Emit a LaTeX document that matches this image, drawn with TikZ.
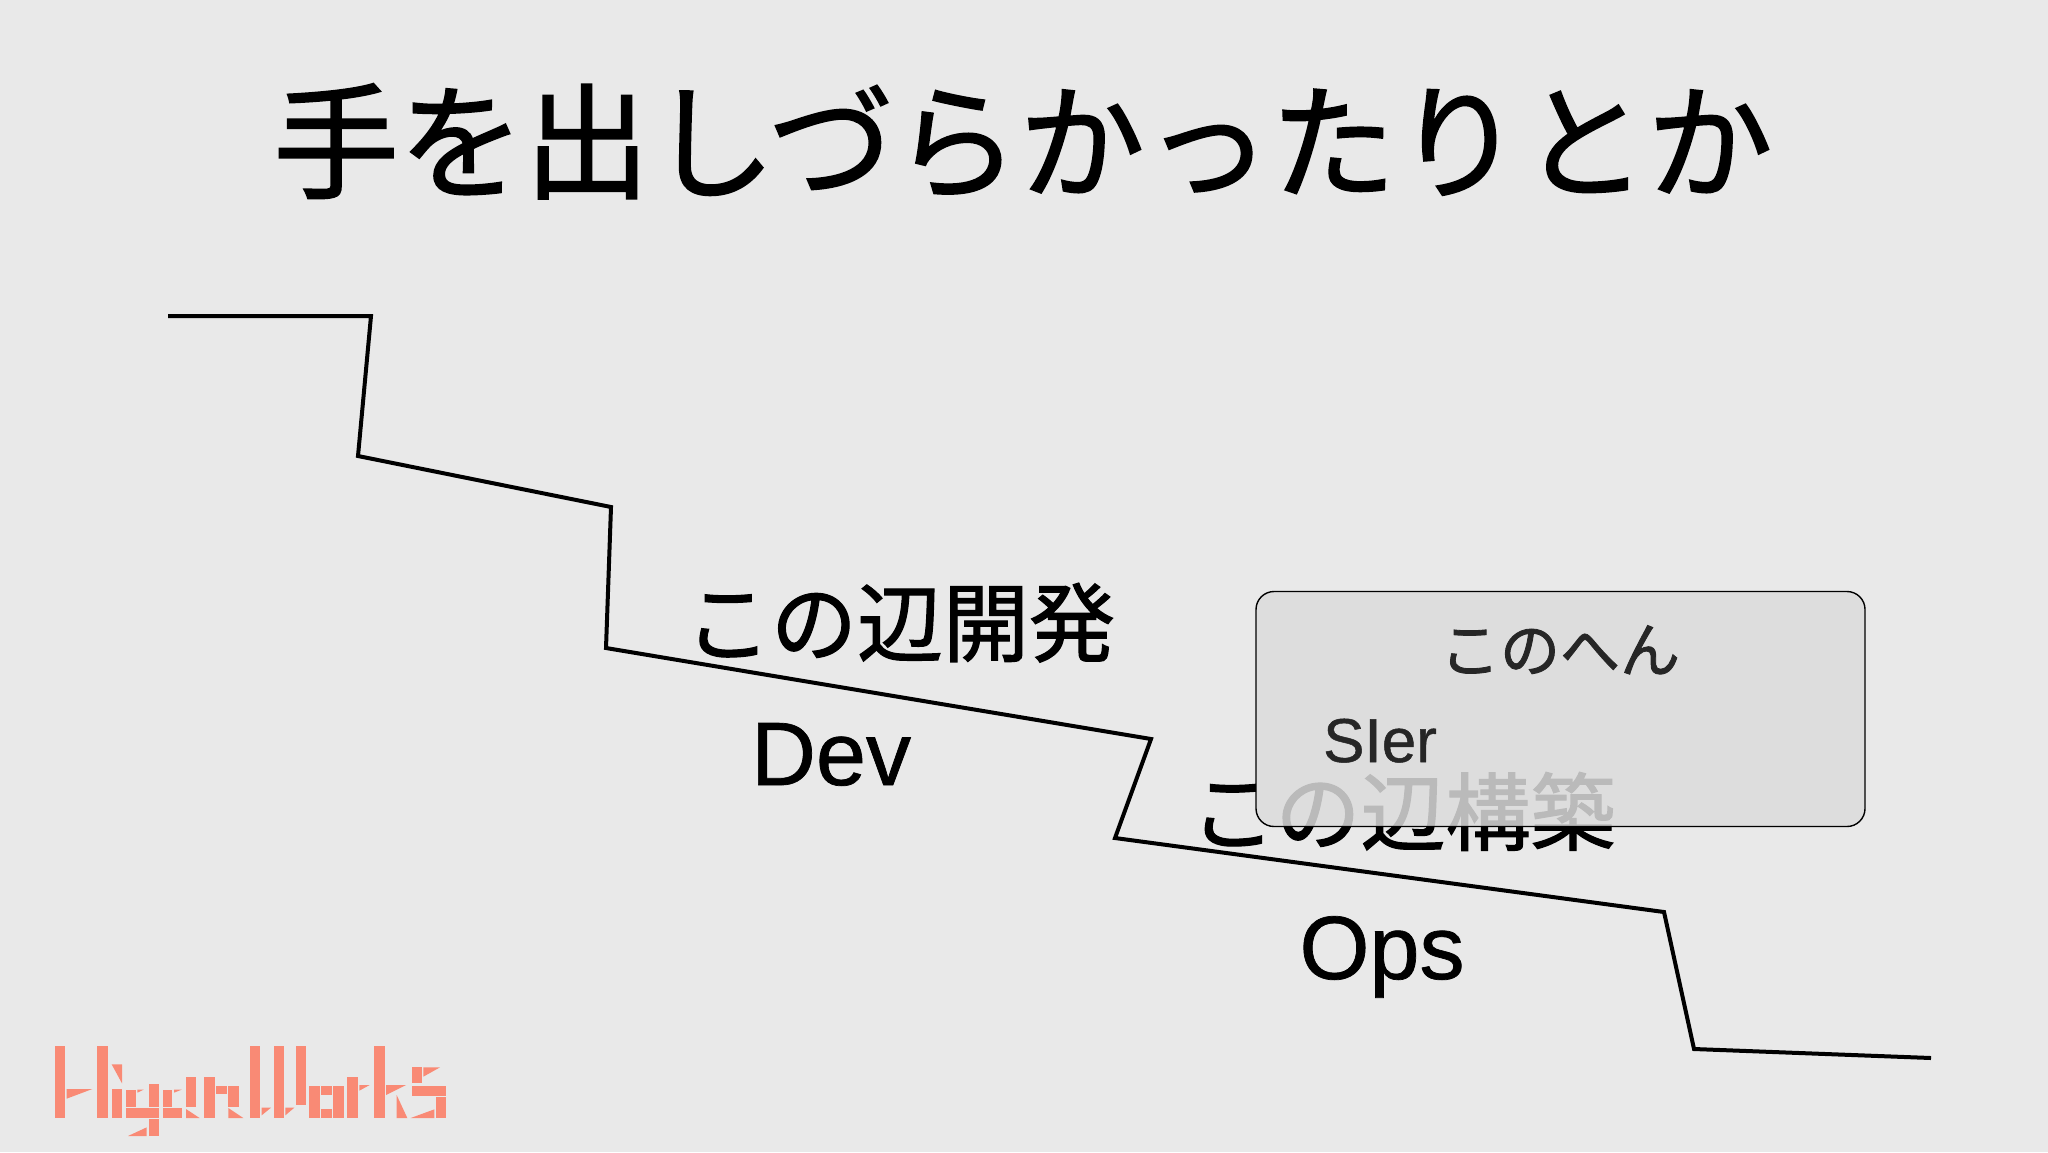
\documentclass[tikz,border=0pt]{standalone}
\usepackage{fontspec}
\setmainfont{Liberation Sans}[FakeBold=0.8]
\newfontfamily\cjkfont{Noto Sans CJK JP}[FakeBold=1.4]
\definecolor{bgcol}{HTML}{E9E9E9}
\definecolor{logocol}{HTML}{F98A75}
\definecolor{boxcol}{HTML}{DBDBDB}

\begin{document}
\begin{tikzpicture}[x=0.5pt,y=-0.5pt,
  jp/.style={font=\cjkfont\fontsize{#1}{#1}\selectfont,inner sep=0,anchor=base},
  en/.style={font=\fontsize{#1}{#1}\selectfont,inner sep=0,anchor=base},
  logo/.style={fill=logocol}]
\useasboundingbox (0,0) rectangle (2048,1152);
\fill[bgcol] (0,0) rectangle (2048,1152);
\node[jp=62.8pt] (title) at (1023,189) {手を出しづらかったりとか};
\coordinate (p1) at (168,316);
\coordinate (p2) at (371,316);
\coordinate (p3) at (358,456);
\coordinate (p4) at (611,507);
\coordinate (p5) at (606,648);
\coordinate (p6) at (1151,739);
\coordinate (p7) at (1115,838);
\coordinate (p8) at (1664,912);
\coordinate (p9) at (1694,1049);
\coordinate (p10) at (1931,1058);
\draw[line width=2pt,miter limit=10] (p1) -- (p2) -- (p3) -- (p4) -- (p5) -- (p6) -- (p7) -- (p8) -- (p9) -- (p10);
\node[jp=43pt] (devjp) at (900,655) {この辺開発};
\node[en=45pt] (dev) at (831,785) {Dev};
\node[jp=42.5pt] (opsjp) at (1403,844) {この辺構築};
\node[en=45pt] (ops) at (1382,979) {Ops};
\node[draw,fill=boxcol,fill opacity=0.85,rounded corners=9pt,line width=0.7pt,minimum width=304.5pt,minimum height=117.5pt,inner sep=0] (box) at (1560.5,709) {};
\node[jp=30pt,text=black!85] (boxtitle) at (1560,672) {このへん};
\node[en=31pt,text=black!85] (sier) at (1380,762) {SIer};
\begin{scope}[shift={(50,1040)},scale=1/3]
\foreach \xa/\ya/\xb/\yb in {14/18/45/234,142/18/174/234,185/147/216/234,227/149/257/202,227/205/327/234,297/132/327/202,297/238/327/288,338/149/367/202,338/205/397/234,408/112/438/202,463/112/495/234,499/137/530/162,535/137/567/200,600/18/630/234,671/18/703/234,738/18/769/195,778/138/810/234,814/138/846/164,814/208/846/234,850/138/882/234,892/110/924/234,972/18/1004/234,1085/82/1115/130,1085/138/1189/168,1157/172/1189/234}
  \fill[logo] (\xa,\ya) rectangle (\xb,\yb);
\foreach \xa/\ya/\xb/\yb/\xc/\yc in {50/147/127/147/50/176,185/73/216/73/216/130,262/149/281/149/262/158,234/288/290/288/290/262,372/149/395/149/372/158,408/207/449/234/408/234,535/204/580/234/535/234,635/203/663/203/635/226,706/203/733/203/706/226,928/135/959/135/928/152,1008/135/1068/135/1008/165,1040/165/1072/234/1040/234,1120/82/1170/82/1120/110,1082/234/1153/208/1153/234}
  \fill[logo] (\xa,\ya) -- (\xb,\yb) -- (\xc,\yc) -- cycle;
\end{scope}
\end{tikzpicture}
\end{document}
